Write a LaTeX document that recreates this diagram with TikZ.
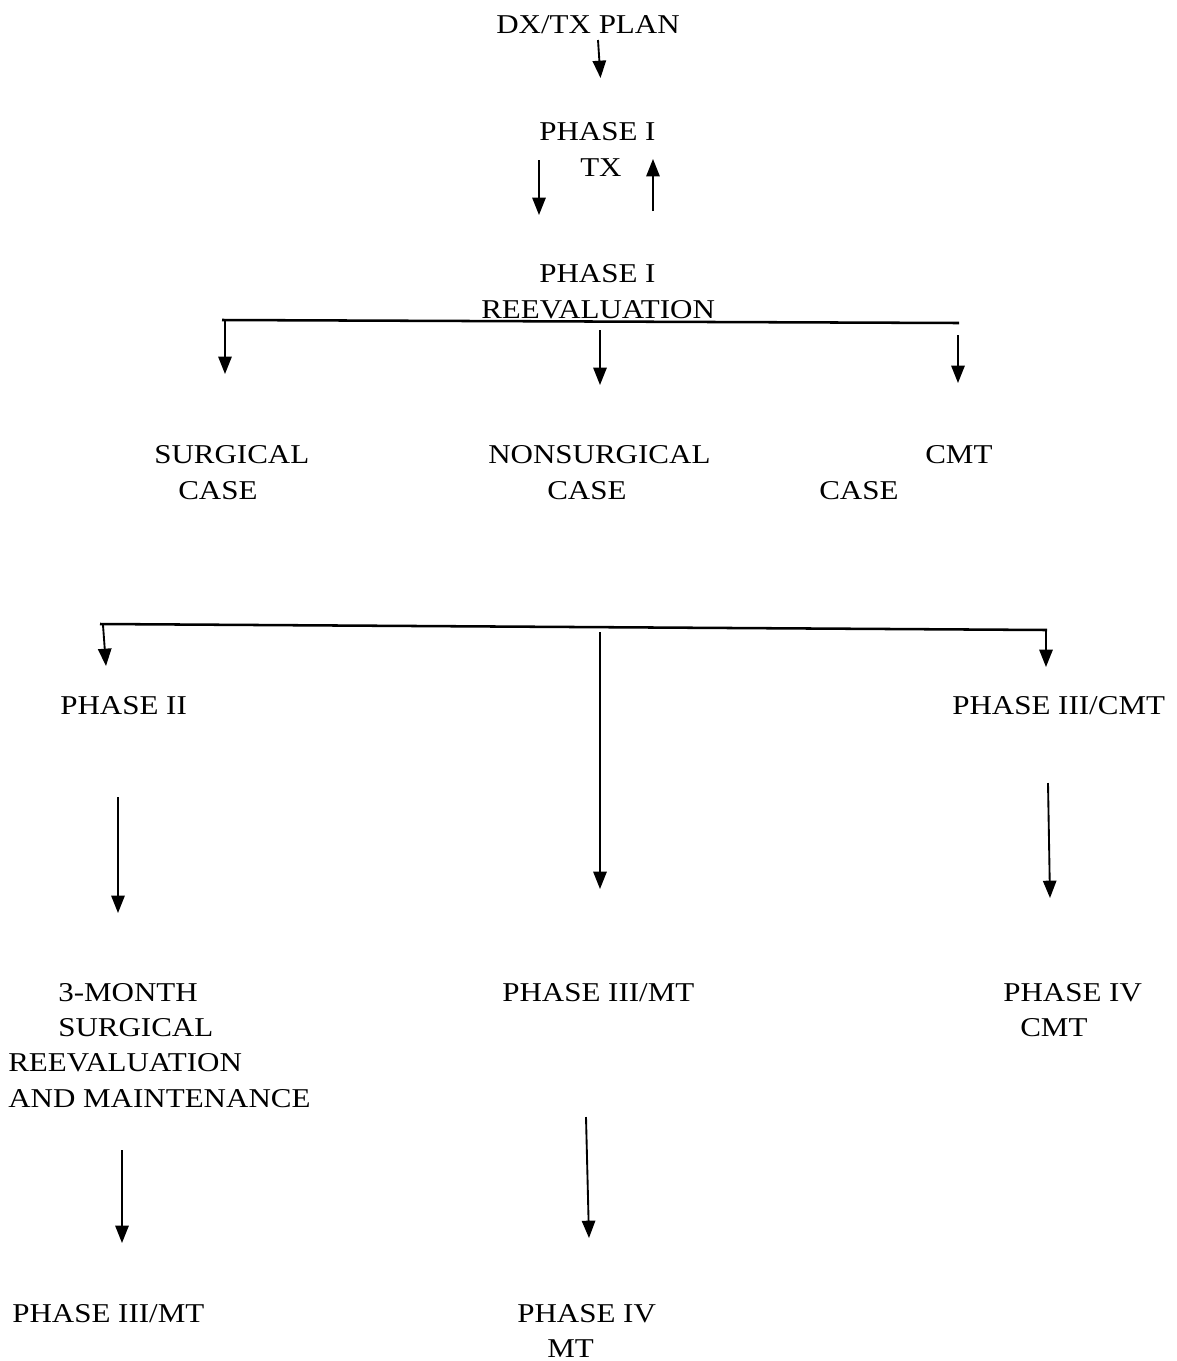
\documentclass[tikz,border=0pt]{standalone}
\usepackage{fontspec}
\setmainfont{Liberation Serif}[FakeStretch=1.14]
\usetikzlibrary{arrows.meta}
\begin{document}
\begin{tikzpicture}[x=0.75pt,y=-0.75pt,
  lbl/.style={anchor=base west,inner sep=0pt,font=\fontsize{20.4}{24}\selectfont},
  arr/.style={line width=1.4pt,-{Triangle[width=10pt,length=13pt]}},
  bar/.style={line width=1.9pt}]
\useasboundingbox (0,0) rectangle (1177,1361);
% labels
\node[lbl] (dx) at (496,33) {DX/TX PLAN};
\node[lbl] (p1a) at (539,140) {PHASE I};
\node[lbl] (p1b) at (580,176) {TX};
\node[lbl] (r1a) at (539,282) {PHASE I};
\node[lbl] (r1b) at (481,318) {REEVALUATION};
\node[lbl] (sa) at (154,463) {SURGICAL};
\node[lbl] (sb) at (178,499) {CASE};
\node[lbl] (na) at (488,463) {NONSURGICAL};
\node[lbl] (nb) at (547,499) {CASE};
\node[lbl] (ca) at (925,463) {CMT};
\node[lbl] (cb) at (819,499) {CASE};
\node[lbl] (p2) at (60,714) {PHASE II};
\node[lbl] (p3c) at (952,714) {PHASE III/CMT};
\node[lbl] (ma) at (58,1001) {3-MONTH};
\node[lbl] (mb) at (58,1036) {SURGICAL};
\node[lbl] (mc) at (8,1071) {REEVALUATION};
\node[lbl] (md) at (8,1107) {AND MAINTENANCE};
\node[lbl] (p3m) at (502,1001) {PHASE III/MT};
\node[lbl] (p4ca) at (1003,1001) {PHASE IV};
\node[lbl] (p4cb) at (1020,1036) {CMT};
\node[lbl] (p3ml) at (12,1322) {PHASE III/MT};
\node[lbl] (p4ma) at (517,1322) {PHASE IV};
\node[lbl] (p4mb) at (547,1357) {MT};
% connector end points
\coordinate (a1s) at (598,40);   \coordinate (a1e) at (600.5,78);
\coordinate (a2s) at (539,160);  \coordinate (a2e) at (539,215);
\coordinate (a3s) at (653,211);  \coordinate (a3e) at (653,159);
\coordinate (h1l) at (222,320);  \coordinate (h1r) at (959,323);
\coordinate (b1s) at (225,320);  \coordinate (b1e) at (225,374);
\coordinate (b2s) at (600,330);  \coordinate (b2e) at (600,385);
\coordinate (b3s) at (958,335);  \coordinate (b3e) at (958,383);
\coordinate (h2l) at (100,624);  \coordinate (h2r) at (1047,630);
\coordinate (c1s) at (103,625);  \coordinate (c1e) at (106,666);
\coordinate (c2s) at (600,632);  \coordinate (c2e) at (600,889);
\coordinate (c3s) at (1046,629); \coordinate (c3e) at (1046,667);
\coordinate (d1s) at (118,797);  \coordinate (d1e) at (118,913);
\coordinate (d3s) at (1048,783); \coordinate (d3e) at (1050,898);
\coordinate (e1s) at (122,1150); \coordinate (e1e) at (122,1243);
\coordinate (e2s) at (586,1117); \coordinate (e2e) at (589,1238);
% connectors
\draw[arr] (a1s) -- (a1e);
\draw[arr] (a2s) -- (a2e);
\draw[arr] (a3s) -- (a3e);
\draw[bar] (h1l) -- (h1r);
\draw[arr] (b1s) -- (b1e);
\draw[arr] (b2s) -- (b2e);
\draw[arr] (b3s) -- (b3e);
\draw[bar] (h2l) -- (h2r);
\draw[arr] (c1s) -- (c1e);
\draw[arr] (c2s) -- (c2e);
\draw[arr] (c3s) -- (c3e);
\draw[arr] (d1s) -- (d1e);
\draw[arr] (d3s) -- (d3e);
\draw[arr] (e1s) -- (e1e);
\draw[arr] (e2s) -- (e2e);
\end{tikzpicture}
\end{document}
